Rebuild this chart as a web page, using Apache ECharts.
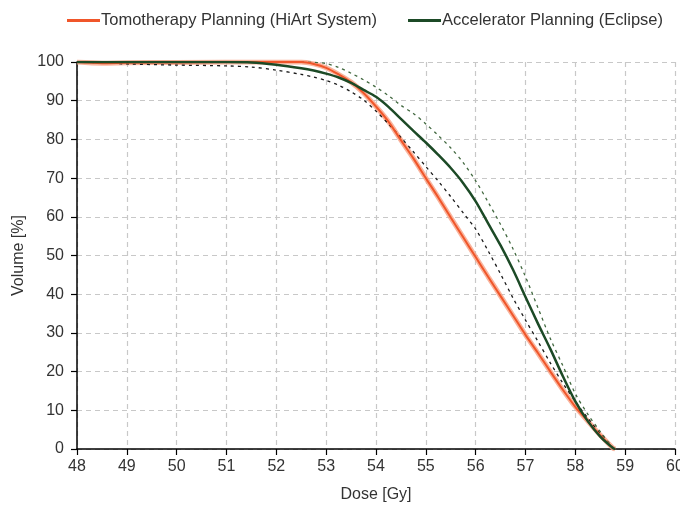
<!DOCTYPE html>
<html><head><meta charset="utf-8">
<script src="https://cdn.jsdelivr.net/npm/echarts@6/dist/echarts.min.js"></script>
<style>html,body{margin:0;padding:0;background:#fff}#c{width:680px;height:512px}</style>
</head><body><div id="c"></div>
<script>
var doses     = [48, 48.5, 49, 50, 51, 51.5, 52, 52.5, 52.75, 53, 53.25, 53.5, 53.75, 54, 54.25, 54.5, 54.75, 55, 55.25, 55.5, 55.75, 56, 56.25, 56.5, 56.75, 57, 57.25, 57.5, 57.75, 58, 58.25, 58.5, 58.75, 58.8];
var tomo      = [100, 99.7, 99.8, 99.9, 100, 100, 100, 100, 99.5, 98.5, 96.8, 94.8, 92, 88.5, 84.6, 79.8, 75.1, 70, 65, 59.8, 54.7, 49.6, 44.5, 39.5, 34.5, 29.5, 24.8, 20, 15.3, 10.9, 7.2, 3.6, 0.3, 0];
var accel     = [100, 100, 100, 100, 100, 99.9, 99.3, 98.4, 97.8, 97, 96, 94.6, 92.8, 91, 88.4, 85.3, 82.2, 79.2, 76, 72.6, 68.7, 64, 58.3, 52.6, 46.3, 39.3, 32.4, 25.8, 18.8, 12.3, 7.2, 3.2, 0.3, 0];
var accelLow  = [100, 99.8, 99.5, 99.2, 99, 98.7, 97.9, 96.8, 96.1, 95.2, 94, 92.3, 90.2, 87.3, 84, 80.5, 76.8, 73, 69.2, 65.2, 61, 56.8, 51.2, 45.2, 39, 33.3, 27.8, 22.2, 17, 12.3, 8, 4, 0.5, 0];
var accelHigh = [100, 100, 100, 100, 100, 100, 100, 100, 99.9, 99.6, 98.6, 97.1, 95.4, 93.5, 91.3, 88.8, 86.7, 84, 81, 77.8, 74, 69.3, 63.8, 58, 51.7, 44.5, 36.5, 28.5, 21.5, 14.3, 9, 4.5, 0.3, 0];
var seriesNames = ['Tomotherapy Planning (HiArt System)', 'Accelerator Planning (Eclipse)'];
var xTicks = [48, 60, 1];
var yTicks = [0, 100, 10];

function pairs(ys){ return doses.map(function(d,i){ return [d, ys[i]]; }); }
var txt = '#333';
var font = 'Liberation Sans';
var fs = 16;
var chart = echarts.init(document.getElementById('c'), null, {renderer:'canvas'});
chart.setOption({
  animation:false,
  textStyle:{fontFamily:font},
  legend:{
    data:[{name:seriesNames[0]},{name:seriesNames[1]}],
    icon:'rect', left:62, top:7, itemWidth:33, itemHeight:3, itemGap:31,
    textStyle:{fontFamily:font, fontSize:16.5, color:txt, padding:[0,0,0,-4]}
  },
  grid:{left:77, right:5, top:62, bottom:63, outerBoundsMode:'none'},
  xAxis:{
    type:'value', min:xTicks[0], max:xTicks[1], interval:xTicks[2],
    name:'Dose [Gy]', nameLocation:'middle', nameGap:38,
    nameTextStyle:{fontFamily:font, fontSize:fs, color:txt},
    axisLine:{show:true, lineStyle:{color:'#000', width:1.5}},
    axisTick:{show:true, inside:false, length:6, lineStyle:{color:'#000', width:1.2}},
    axisLabel:{fontFamily:font, fontSize:fs, color:txt, margin:10},
    splitLine:{show:true, lineStyle:{color:'#c8c8c8', type:[5,4], width:1.2}}
  },
  yAxis:{
    type:'value', min:yTicks[0], max:yTicks[1], interval:yTicks[2],
    name:'Volume [%]', nameLocation:'middle', nameGap:50, nameRotate:90,
    nameTextStyle:{fontFamily:font, fontSize:fs, color:txt},
    axisLine:{show:true, lineStyle:{color:'#000', width:1.5}},
    axisTick:{show:true, inside:false, length:6, lineStyle:{color:'#000', width:1.2}},
    axisLabel:{fontFamily:font, fontSize:fs, color:txt, margin:13},
    splitLine:{show:true, lineStyle:{color:'#c8c8c8', type:[5,4], width:1.2}}
  },
  series:[
    {name:'tomoHalo', type:'line', data:pairs(tomo), smooth:0.3, symbol:'none', silent:true,
     lineStyle:{color:'#f7a184', width:5, opacity:0.8}, z:2},
    {name:'accelLow', type:'line', data:pairs(accelLow), smooth:0.3, symbol:'none', silent:true,
     lineStyle:{color:'#1a1a1a', width:1.3, type:[3,4]}, z:3},
    {name:'accelHigh', type:'line', data:pairs(accelHigh), smooth:0.3, symbol:'none', silent:true,
     lineStyle:{color:'#41683f', width:1.3, type:[3,4]}, z:3},
    {name:seriesNames[0], type:'line', data:pairs(tomo), smooth:0.3, symbol:'none',
     itemStyle:{color:'#f0562a'}, lineStyle:{color:'#f0562a', width:2}, z:4},
    {name:seriesNames[1], type:'line', data:pairs(accel), smooth:0.3, symbol:'none',
     itemStyle:{color:'#1c4a26'}, lineStyle:{color:'#1c4a26', width:2.5}, z:5}
  ]
});
</script>
</body></html>
